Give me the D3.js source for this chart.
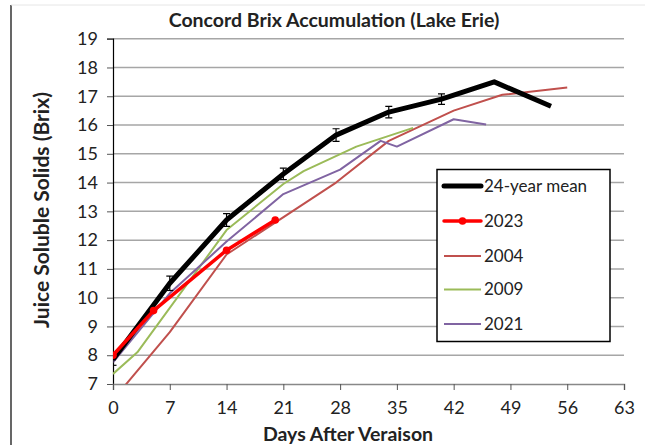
<!DOCTYPE html>
<head>
  <meta charset="utf-8">
  <title>Concord Brix</title>
  <style>
      body { margin: 0; background: #fff; }
      text { font-family: Lato, "Open Sans", sans-serif; fill: #222; }
  </style>
  <script src="https://d3js.org/d3.v7.js"></script>
</head>
<body>
<svg id="chart" width="649" height="445"></svg>
<script>
    // data
    const xTicks = [0, 7, 14, 21, 28, 35, 42, 49, 56, 63];
    const yTicks = [7, 8, 9, 10, 11, 12, 13, 14, 15, 16, 17, 18, 19];

    const meanDays = [0, 7, 14, 21, 27.5, 34, 40.5, 47, 54];
    const meanBrix = [7.85, 10.5, 12.7, 14.3, 15.65, 16.45, 16.9, 17.5, 16.65];
    const meanErr = [0.2, 0.25, 0.22, 0.2, 0.22, 0.2, 0.18, null, null];

    const days2023 = [0, 5, 14, 20];
    const brix2023 = [8.0, 9.55, 11.65, 12.7];

    const days2004 = [0, 7, 14, 27.5, 34, 42, 48, 56];
    const brix2004 = [6.45, 8.8, 11.5, 14.0, 15.45, 16.5, 17.05, 17.3];

    const days2009 = [0, 3, 14, 21, 23.5, 30, 37];
    const brix2009 = [7.35, 8.1, 12.35, 13.95, 14.4, 15.25, 15.9];

    const days2021 = [0, 7, 14, 21, 28, 33, 35, 42, 46];
    const brix2021 = [7.75, 10.15, 11.95, 13.6, 14.45, 15.45, 15.25, 16.2, 16.02];

    const series = [
        {name: "2004", days: days2004, brix: brix2004, color: "#c0504d", width: 2},
        {name: "2009", days: days2009, brix: brix2009, color: "#9bbb59", width: 2},
        {name: "2021", days: days2021, brix: brix2021, color: "#8064a2", width: 2},
        {name: "24-year mean", days: meanDays, brix: meanBrix, color: "#000", width: 5},
        {name: "2023", days: days2023, brix: brix2023, color: "#ff0000", width: 3.5, marker: true}
    ];
    const legendOrder = ["24-year mean", "2023", "2004", "2009", "2021"];

    const svg = d3.select("#chart");
    const pLeft = 113, pRight = 624, pTop = 38.7, pBottom = 384;

    const x = d3.scaleLinear().domain([0, 63]).range([pLeft, pRight]);
    const y = d3.scaleLinear().domain([7, 19]).range([pBottom, pTop]);

    // frame bits at the edge of the picture
    svg.append("line").attr("x1", 11).attr("x2", 11).attr("y1", 5).attr("y2", 445)
        .attr("stroke", "#000").attr("stroke-width", 1.2);
    svg.append("line").attr("x1", 11).attr("x2", 645).attr("y1", 5).attr("y2", 5)
        .attr("stroke", "#e6e6e6").attr("stroke-width", 1);

    // gridlines
    svg.append("g").selectAll("line")
        .data(yTicks.filter(d => d > 7))
        .join("line")
        .attr("x1", pLeft).attr("x2", pRight)
        .attr("y1", d => y(d)).attr("y2", d => y(d))
        .attr("stroke", "#a6a6a6").attr("stroke-width", 1.5);

    // y axis
    const yAxis = svg.append("g")
        .attr("transform", `translate(${pLeft},0)`)
        .call(d3.axisLeft(y).tickValues(yTicks).tickSize(6).tickPadding(9));
    yAxis.select(".domain").attr("stroke", "#000").attr("stroke-width", 1.2);
    yAxis.selectAll(".tick line").attr("stroke", "#555");
    yAxis.selectAll("text").style("font-size", "18px").attr("fill", "#222");

    // x axis
    const xAxis = svg.append("g")
        .attr("transform", `translate(0,${pBottom})`)
        .call(d3.axisBottom(x).tickValues(xTicks).tickSize(6).tickPadding(11));
    xAxis.select(".domain").attr("stroke", "#888").attr("stroke-width", 1.5);
    xAxis.selectAll(".tick line").attr("stroke", "#555");
    xAxis.selectAll("text").style("font-size", "18px").attr("fill", "#222");

    // clip to plot area
    svg.append("clipPath").attr("id", "plot")
        .append("rect").attr("x", pLeft).attr("y", pTop - 5)
        .attr("width", pRight - pLeft).attr("height", pBottom - pTop + 5);

    const line = d3.line().x(d => x(d[0])).y(d => y(d[1]));
    const plot = svg.append("g").attr("clip-path", "url(#plot)");

    series.forEach(s => {
        const pts = s.days.map((d, i) => [d, s.brix[i]]);
        plot.append("path")
            .datum(pts)
            .attr("d", line)
            .attr("fill", "none")
            .attr("stroke", s.color)
            .attr("stroke-width", s.width)
            .attr("stroke-linejoin", "round");
        if (s.marker) {
            plot.selectAll(null).data(pts).join("circle")
                .attr("cx", d => x(d[0])).attr("cy", d => y(d[1]))
                .attr("r", 3.8).attr("fill", s.color);
        }
        if (s.name === "24-year mean") {
            const eb = plot.append("g").attr("stroke", "#000").attr("stroke-width", 1.2);
            pts.forEach((p, i) => {
                const e = meanErr[i];
                if (e == null) return;
                eb.append("line").attr("x1", x(p[0])).attr("x2", x(p[0]))
                    .attr("y1", y(p[1] - e)).attr("y2", y(p[1] + e));
                [p[1] - e, p[1] + e].forEach(v => {
                    eb.append("line").attr("x1", x(p[0]) - 3.5).attr("x2", x(p[0]) + 3.5)
                        .attr("y1", y(v)).attr("y2", y(v));
                });
            });
        }
    });

    // legend
    const lg = svg.append("g");
    lg.append("rect").attr("x", 437).attr("y", 169.5).attr("width", 173).attr("height", 172)
        .attr("fill", "#fff").attr("stroke", "#000").attr("stroke-width", 1.5);
    const itemY = [186, 221, 256, 289.5, 324];
    legendOrder.forEach((name, i) => {
        const s = series.find(d => d.name === name);
        lg.append("line").attr("x1", 444).attr("x2", 481)
            .attr("y1", itemY[i]).attr("y2", itemY[i])
            .attr("stroke", s.color).attr("stroke-width", s.width)
            .attr("stroke-linecap", s.width > 3 ? "round" : "butt");
        if (s.marker) {
            lg.append("circle").attr("cx", 462.5).attr("cy", itemY[i]).attr("r", 3.8).attr("fill", s.color);
        }
        lg.append("text").attr("x", 484).attr("y", itemY[i]).attr("dy", "0.35em")
            .style("font-size", "17px").text(name);
    });

    // titles
    svg.append("text").attr("x", 334).attr("y", 27).attr("text-anchor", "middle")
        .style("font-size", "19.5px").style("font-weight", "bold")
        .text("Concord Brix Accumulation (Lake Erie)");
    svg.append("text").attr("transform", "translate(49,210) rotate(-90)")
        .attr("text-anchor", "middle")
        .style("font-size", "21px").style("font-weight", "bold")
        .text("Juice Soluble Solids (Brix)");
    svg.append("text").attr("x", 348).attr("y", 441).attr("text-anchor", "middle")
        .style("font-size", "19.5px").style("font-weight", "bold")
        .text("Days After Veraison");
</script>
</body>
